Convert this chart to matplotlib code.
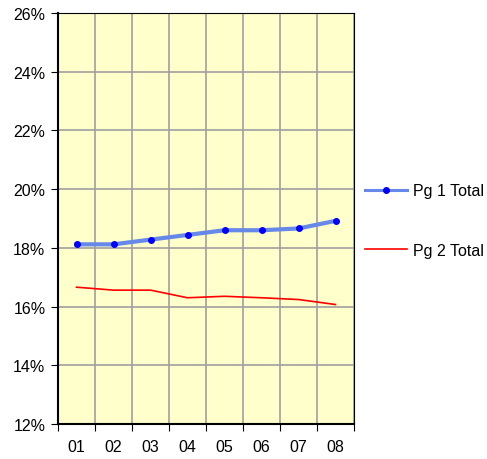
import matplotlib
matplotlib.use('Agg')
import matplotlib.pyplot as plt
from matplotlib.ticker import FixedLocator, PercentFormatter

months = ["01", "02", "03", "04", "05", "06", "07", "08"]
pg1_total = [18.12, 18.12, 18.28, 18.44, 18.60, 18.60, 18.66, 18.92]
pg2_total = [16.66, 16.56, 16.56, 16.30, 16.35, 16.30, 16.24, 16.07]

plt.rcParams['font.family'] = ['Liberation Sans', 'DejaVu Sans']
plt.rcParams['font.size'] = 11.5

fig = plt.figure(figsize=(4.87, 4.6), dpi=100)
ax = fig.add_axes([58 / 487, 1 - 425 / 460, 296 / 487, 411 / 460])
ax.set_facecolor('#FFFFCC')

x = [i + 0.5 for i in range(len(months))]
ax.plot(x, pg1_total, color='#6688E8', lw=3, marker='o', ms=4,
        mfc='#0000FF', mec='#0000FF', label='Pg 1 Total', zorder=3)
ax.plot(x, pg2_total, color='#FF0000', lw=1.2, label='Pg 2 Total', zorder=3)

ax.set_xlim(0, len(months))
ax.set_ylim(12, 26)
ax.set_yticks(range(12, 27, 2))
ax.yaxis.set_major_formatter(PercentFormatter(decimals=0))

ax.xaxis.set_major_locator(FixedLocator(range(0, len(months) + 1)))
ax.xaxis.set_minor_locator(FixedLocator(x))
ax.set_xticklabels([], minor=False)
ax.set_xticklabels(months, minor=True)
ax.tick_params(axis='x', which='major', direction='out', length=5, color='black')
ax.tick_params(axis='x', which='minor', length=0, pad=11)
ax.tick_params(axis='y', direction='out', length=5, pad=4)

ax.grid(True, which='major', color='#A0A0A0', lw=1.2)
ax.set_axisbelow(True)
for side in ['top', 'right']:
    ax.spines[side].set_linewidth(0.8)
for side in ['left', 'bottom']:
    ax.spines[side].set_linewidth(1.5)

leg = fig.legend(loc='upper left', bbox_to_anchor=(359 / 487, 1 - 178 / 460),
                 frameon=False, labelspacing=2.78, handlelength=2.6,
                 handletextpad=0.4, borderaxespad=0)
leg.get_lines()[0].set_linewidth(2.2)

fig.savefig('out.png', dpi=100)
